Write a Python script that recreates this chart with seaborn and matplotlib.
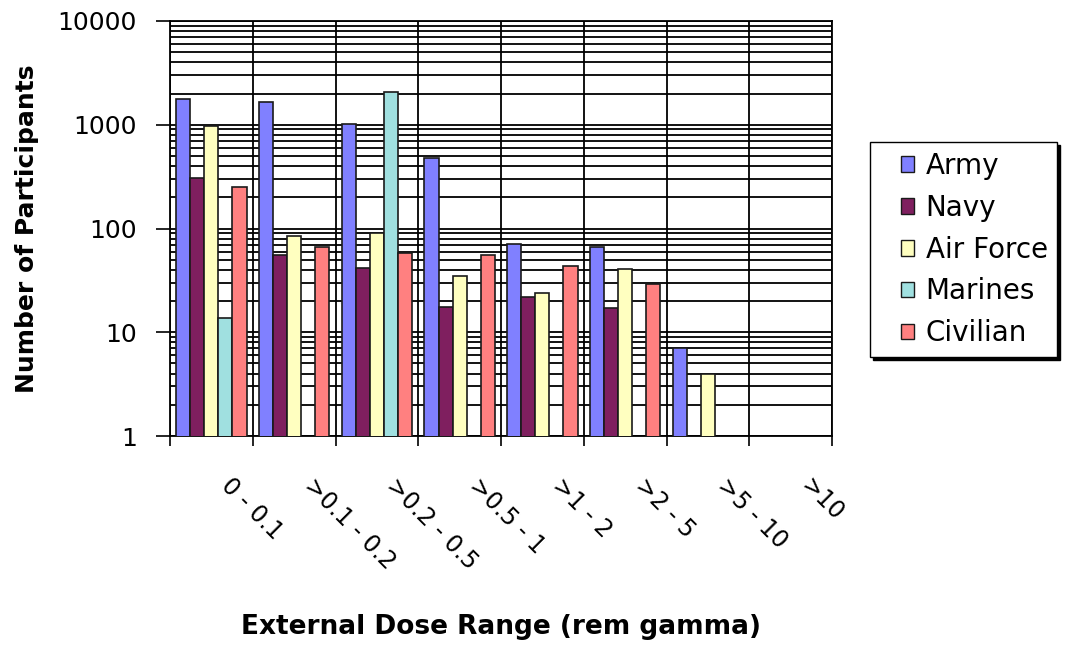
import numpy as np
import pandas as pd
import seaborn as sns
import matplotlib
matplotlib.use("Agg")
import matplotlib.pyplot as plt
from matplotlib.patches import Patch
from matplotlib.legend_handler import HandlerPatch
from matplotlib.transforms import ScaledTranslation

# ---------------- data ----------------
dose_ranges = ["0 - 0.1", ">0.1 - 0.2", ">0.2 - 0.5", ">0.5 - 1", ">1 - 2", ">2 - 5", ">5 - 10", ">10"]
services = ["Army", "Navy", "Air Force", "Marines", "Civilian"]
army      = [1760, 1660, 1020, 480, 71, 67, 7, np.nan]
navy      = [310, 56, 42, 17.6, 22, 17, np.nan, np.nan]
air_force = [980, 85, 90, 35, 24, 41, 4, np.nan]
marines   = [13.7, np.nan, 2070, np.nan, np.nan, np.nan, np.nan, np.nan]
civilian  = [253, 67, 58.5, 55.6, 43.5, 29, np.nan, np.nan]
colors = ["#8080FF", "#7F1F5F", "#FFFFC0", "#A0E0E0", "#FF8080"]
y_ticks = [1, 10, 100, 1000, 10000]

series = [army, navy, air_force, marines, civilian]
df = pd.DataFrame({
    "range": [r for s in series for r in dose_ranges],
    "service": [svc for svc in services for _ in dose_ranges],
    "count": [v for s in series for v in s],
})
df["range"] = pd.Categorical(df["range"], categories=dose_ranges, ordered=True)
df["service"] = pd.Categorical(df["service"], categories=services, ordered=True)

# ---------------- figure ----------------
sns.set_style("white")
plt.rcParams["font.family"] = ["DejaVu Sans"]
for k in ["text.color", "axes.labelcolor", "xtick.color", "ytick.color"]:
    plt.rcParams[k] = "black"

fig = plt.figure(figsize=(10.73, 6.45), dpi=100)
ax = fig.add_axes([170 / 1073, 1 - 436 / 645, 662 / 1073, 415 / 645])
ax.set_yscale("log")

sns.barplot(data=df, x="range", y="count", hue="service", order=dose_ranges,
            hue_order=services, palette=colors, saturation=1, width=0.85, gap=0,
            errorbar=None, legend=False, edgecolor="#1a1a1a", linewidth=1.2,
            ax=ax, zorder=3)

ax.set_ylim(1, 10000)
ax.set_xlim(-0.5, len(dose_ranges) - 0.5)

# grid
ax.set_axisbelow(True)
ax.yaxis.grid(True, which="both", color="black", linewidth=1.3)
ax.set_yticks(y_ticks)
ax.set_yticklabels([str(t) for t in y_ticks])
ax.tick_params(axis="y", which="major", direction="out", length=10, width=1.2,
               labelsize=18, pad=14, color="black", left=True)
ax.tick_params(axis="y", which="minor", length=0)

# x: boundaries as major ticks (marks + vertical grid), centres as minor (labels)
bounds = np.arange(-0.5, len(dose_ranges), 1.0)
ax.set_xticks(bounds)
ax.set_xticklabels([""] * len(bounds))
ax.set_xticks(np.arange(len(dose_ranges)), minor=True)
ax.set_xticklabels(dose_ranges, minor=True)
ax.xaxis.grid(True, which="major", color="black", linewidth=1.3)
ax.xaxis.grid(False, which="minor")
ax.tick_params(axis="x", which="major", direction="out", length=7, width=1.2,
               color="black", bottom=True)
ax.tick_params(axis="x", which="minor", length=0, pad=27, labelsize=17)
offset = ScaledTranslation(22 / 100, 0, fig.dpi_scale_trans)
for lab in ax.get_xticklabels(minor=True):
    lab.set_rotation(-45)
    lab.set_rotation_mode("anchor")
    lab.set_ha("left")
    lab.set_va("top")
    lab.set_transform(lab.get_transform() + offset)

for sp in ax.spines.values():
    sp.set_color("black")
    sp.set_linewidth(1.3)

ax.set_xlabel("External Dose Range (rem gamma)", fontsize=19, fontweight="bold")
ax.xaxis.set_label_coords(0.5, -0.43)
ax.set_ylabel("Number of Participants", fontsize=18, fontweight="bold")
ax.yaxis.set_label_coords(-0.198, 0.5)

# legend
handles = [Patch(facecolor=c, edgecolor="#1a1a1a", linewidth=1.0) for c in colors]
leg = fig.legend(handles, services, loc="upper left",
                 bbox_to_anchor=(870 / 1073, 1 - 142 / 645),
                 fontsize=20, frameon=True, fancybox=False,
                 shadow={"color": "black", "alpha": 1.0},
                 borderpad=0.35, labelspacing=0.5,
                 handlelength=1.25, handleheight=0.5, handletextpad=0.4,
                 borderaxespad=0,
                 handler_map={Patch: HandlerPatch(xpad=0.75)})
leg.get_frame().set_edgecolor("black")
leg.get_frame().set_linewidth(1.0)

fig.savefig("out.png", dpi=100)
